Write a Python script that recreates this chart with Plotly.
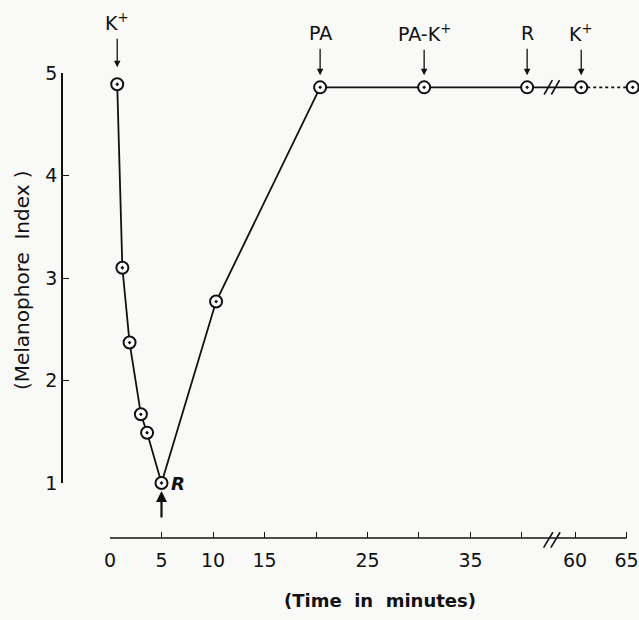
import plotly.graph_objects as go

# ---- data ----
time_min = [0.7, 1.2, 1.9, 3.0, 3.6, 5.0, 10.3, 20.4, 30.5, 40.5, 60.6, 65.6]
melanophore_index = [4.89, 3.10, 2.37, 1.67, 1.49, 1.0, 2.77, 4.86, 4.86, 4.86, 4.86, 4.86]
x_tick_times = [0, 5, 10, 15, 25, 35, 60, 65]
x_tick_labels = ["0", "5", "10", "15", "25", "35", "60", "65"]
x_unlabelled_tick_times = [20, 30, 40]
y_tick_vals = [1, 2, 3, 4, 5]
event_labels = ["K<sup>+</sup>", "PA", "PA-K<sup>+</sup>", "R", "K<sup>+</sup>"]
event_point_idx = [0, 7, 8, 9, 10]

# axis break: times after the break are shifted left
BREAK_START = 45.0
BREAK_SHIFT = 14.85


def disp(t):
    return t if t <= BREAK_START else t - BREAK_SHIFT


xd = [disp(t) for t in time_min]
FONT = "DejaVu Sans, Arial, sans-serif"
INK = "#111111"
BG = "#f9f9f8"

fig = go.Figure()
fig.add_trace(go.Scatter(x=xd[:11], y=melanophore_index[:11], mode="lines",
                         line=dict(color=INK, width=1.8), hoverinfo="skip", showlegend=False))
fig.add_trace(go.Scatter(x=xd[10:], y=melanophore_index[10:], mode="lines",
                         line=dict(color=INK, width=1.8, dash="dot"), hoverinfo="skip", showlegend=False))
fig.add_trace(go.Scatter(x=xd, y=melanophore_index, mode="markers",
                         marker=dict(symbol="circle-dot", size=12, color="white",
                                     line=dict(color=INK, width=2)),
                         cliponaxis=False, showlegend=False))

shapes = []
# x axis line from 0 to 65 min
shapes.append(dict(type="line", xref="x", yref="paper", x0=0, x1=disp(65), y0=0, y1=0,
                   line=dict(color=INK, width=1.6)))
bx = 42.9
for off in (-0.35, 0.35):
    shapes.append(dict(type="line", xref="x", yref="paper", x0=bx + off - 0.45, x1=bx + off + 0.45,
                       y0=-0.02, y1=0.012, line=dict(color=INK, width=1.6)))
    shapes.append(dict(type="line", xref="x", yref="y", x0=bx + off - 0.4, x1=bx + off + 0.4,
                       y0=4.86 - 0.07, y1=4.86 + 0.07, line=dict(color=INK, width=1.6)))

annotations = []
for k, (lab, i) in enumerate(zip(event_labels, event_point_idx)):
    first = k == 0
    annotations.append(dict(x=xd[i], y=melanophore_index[i], xref="x", yref="y", text=lab,
                            showarrow=True, ax=0, ay=-62 if first else -54,
                            standoff=17 if first else 12, borderpad=4,
                            arrowhead=2, arrowsize=1, arrowwidth=1.3, arrowcolor=INK,
                            font=dict(family=FONT, size=19, color=INK)))
annotations.append(dict(x=xd[5], y=melanophore_index[5], xref="x", yref="y", text="",
                        showarrow=True, ax=0, ay=36, standoff=8, arrowhead=2, arrowsize=1,
                        arrowwidth=2.2, arrowcolor=INK))
annotations.append(dict(x=xd[5] + 0.75, y=melanophore_index[5], xref="x", yref="y",
                        text="<b><i>R</i></b>", xanchor="left", yanchor="middle", showarrow=False,
                        font=dict(family=FONT, size=18, color=INK)))
annotations.append(dict(x=-0.069, y=0.54, xref="paper", yref="paper", text="(Melanophore  Index )",
                        xanchor="center", yanchor="middle",
                        textangle=-90, showarrow=False, font=dict(family=FONT, size=20, color=INK)))
annotations.append(dict(x=0.551, y=-0.13, xref="paper", yref="paper", text="<b>(Time  in  minutes)</b>",
                        xanchor="center", yanchor="middle",
                        showarrow=False, font=dict(family=FONT, size=18, color=INK)))

# paper area: px x 62..639, px y 60..538 ; 0 min at px 110, 10.3 px per minute
fig.update_layout(
    width=639, height=620,
    margin=dict(l=62, r=0, t=60, b=82),
    paper_bgcolor=BG, plot_bgcolor=BG,
    shapes=shapes, annotations=annotations,
    font=dict(family=FONT, size=19, color=INK),
    showlegend=False,
    xaxis=dict(domain=[0.08319, 1.0], anchor="free", position=0,
               range=[0, 51.36], showgrid=False, zeroline=False, showline=False,
               tickmode="array", tickvals=[disp(t) for t in x_tick_times], ticktext=x_tick_labels,
               ticks="inside", ticklen=6, tickwidth=1.4, tickcolor=INK,
               minor=dict(tickmode="array", tickvals=[disp(t) for t in x_unlabelled_tick_times],
                          ticks="inside", ticklen=6, tickwidth=1.4, tickcolor=INK, showgrid=False),
               ticklabelstandoff=9, tickfont=dict(family=FONT, size=19, color=INK)),
    yaxis=dict(domain=[0.11506, 0.97280], anchor="free", position=0,
               range=[1, 5], showgrid=False, zeroline=False,
               showline=True, linecolor=INK, linewidth=1.6,
               tickmode="array", tickvals=y_tick_vals,
               ticks="inside", ticklen=6, tickwidth=1.4, tickcolor=INK,
               tickfont=dict(family=FONT, size=19, color=INK)),
)

fig.write_html("out.html", config={"displayModeBar": False},
               post_script="document.body.style.margin='0px';")
